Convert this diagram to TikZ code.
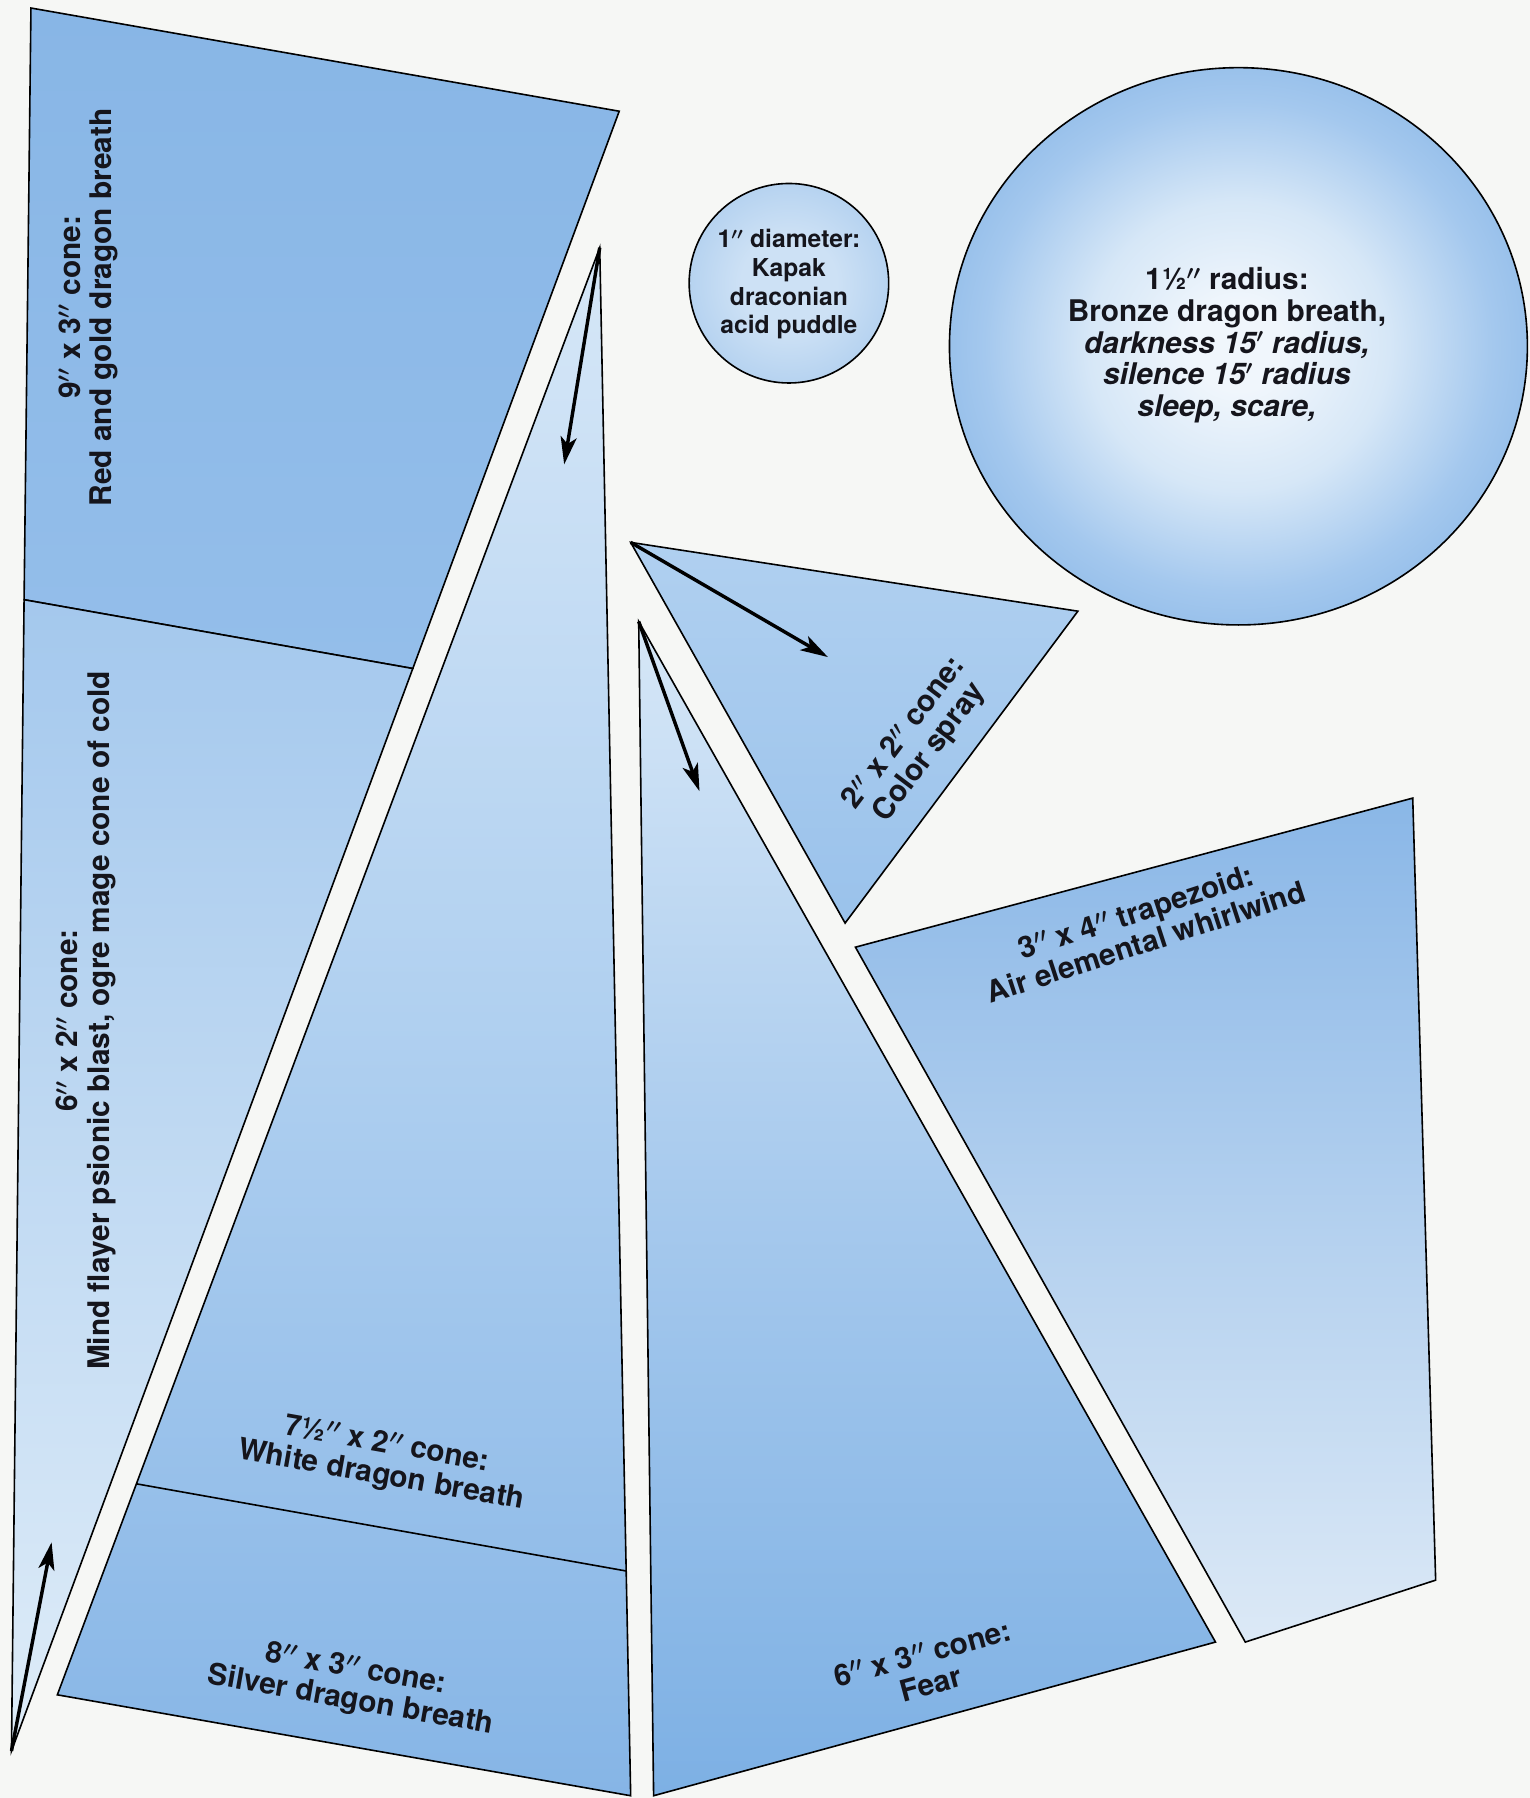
\documentclass[tikz,border=0pt]{standalone}
\usepackage{fontspec}
\setmainfont{TeX Gyre Heros}
\usetikzlibrary{arrows.meta}
\definecolor{bgc}{HTML}{F6F7F5}
\definecolor{bwhite}{HTML}{F0F6FC}
\definecolor{bpale}{HTML}{D6E7F7}
\definecolor{bmidc}{HTML}{A4C8EE}
\definecolor{bdeep}{HTML}{80B1E4}
\definecolor{sone}{HTML}{CDE1F5}
\definecolor{stwo}{HTML}{A8CAED}
\definecolor{inkc}{HTML}{15151C}
\pgfdeclareradialshading{bigdisc}{\pgfpoint{0bp}{0bp}}{color(0bp)=(bwhite); color(4bp)=(bwhite); color(13bp)=(bpale); color(22bp)=(bmidc); color(32bp)=(bdeep); color(75bp)=(bdeep)}
\pgfdeclareradialshading{smalldisc}{\pgfpoint{0bp}{0bp}}{color(0bp)=(sone); color(12bp)=(sone); color(33bp)=(stwo); color(75bp)=(stwo)}
\newcommand{\inch}{\ensuremath{''}}
\newcommand{\foot}{\ensuremath{'}}
\begin{document}
\begin{tikzpicture}[x=1pt,y=-1pt,
  edge/.style={draw=black,line width=1.4pt,line join=miter},
  arr/.style={draw=black,line width=3pt,-{Stealth[length=24pt,width=14pt,inset=6pt]}},
  lbl/.style={font=\bfseries\boldmath\fontsize{26}{27.5}\selectfont,align=center,text=inkc,inner sep=0pt},
  lbls/.style={font=\bfseries\boldmath\fontsize{21.5}{25}\selectfont,align=center,text=inkc,inner sep=0pt}]
\fill[bgc] (0,0) rectangle (1334,1568);
\useasboundingbox (0,0) rectangle (1334,1568);
% coordinates
\coordinate (L1) at (27,7);
\coordinate (L2) at (540,97);
\coordinate (L3) at (360,583);
\coordinate (L4) at (21,523);
\coordinate (L5) at (10,1527);
\coordinate (M1) at (523,216);
\coordinate (M2) at (550,1566);
\coordinate (M3) at (50,1478);
\coordinate (D1) at (119,1294);
\coordinate (D2) at (546,1370);
\coordinate (F1) at (557,542);
\coordinate (F2) at (570,1566);
\coordinate (F3) at (1060,1432);
\coordinate (C1) at (550,473);
\coordinate (C2) at (940,533);
\coordinate (C3) at (737,805);
\coordinate (T1) at (746,826);
\coordinate (T2) at (1232,696);
\coordinate (T3) at (1252,1378);
\coordinate (T4) at (1086,1432);
\coordinate (A1) at (45,1345);
\coordinate (A2) at (492,405);
\coordinate (A3) at (722,573);
\coordinate (A4) at (610,690);
% left shape
\draw[edge,top color={rgb,255:red,136;green,182;blue,230},bottom color={rgb,255:red,148;green,190;blue,234}] (L1) -- (L2) -- (L3) -- (L4) -- cycle;
\draw[edge,top color={rgb,255:red,164;green,200;blue,237},bottom color={rgb,255:red,222;green,236;blue,248}] (L4) -- (L3) -- (L5) -- cycle;
% middle shape
\draw[edge,top color={rgb,255:red,214;green,231;blue,247},bottom color={rgb,255:red,134;green,181;blue,230},middle color={rgb,255:red,176;green,208;blue,240}] (M1) -- (M2) -- (M3) -- cycle;
\draw[edge] (D1) -- (D2);
% fear
\draw[edge,top color={rgb,255:red,214;green,231;blue,247},bottom color={rgb,255:red,125;green,176;blue,228},middle color={rgb,255:red,166;green,201;blue,237}] (F1) -- (F2) -- (F3) -- cycle;
% color spray
\draw[edge,top color={rgb,255:red,176;green,208;blue,240},bottom color={rgb,255:red,154;green,194;blue,235}] (C1) -- (C2) -- (C3) -- cycle;
% trapezoid
\draw[edge,top color={rgb,255:red,138;green,183;blue,231},bottom color={rgb,255:red,220;green,233;blue,246}] (T1) -- (T2) -- (T3) -- (T4) -- cycle;
% circles
\shade[shading=smalldisc] (688,247) circle[radius=87];
\draw[edge] (688,247) circle[radius=87];
\shade[shading=bigdisc] (1080,302) ellipse[x radius=252,y radius=243];
\draw[edge] (1080,302) ellipse[x radius=252,y radius=243];
% arrows
\draw[arr] (L5) -- (A1);
\draw[arr] (M1) -- (A2);
\draw[arr] (C1) -- (A3);
\draw[arr] (F1) -- (A4);
% labels
\node[lbl,rotate=90] (t1) at (77,268) {9\inch{} x 3\inch{} cone:\\Red and gold dragon breath};
\node[lbl,rotate=90] (t2) at (75,890) {6\inch{} x 2\inch{} cone:\\Mind flayer psionic blast, ogre mage cone of cold};
\node[lbl,rotate=-10] (t3) at (335,1274) {7½\inch{} x 2\inch{} cone:\\White dragon breath};
\node[lbl,rotate=-10] (t4) at (308,1470) {8\inch{} x 3\inch{} cone:\\Silver dragon breath};
\node[lbl,rotate=15] (t5) at (808,1455) {6\inch{} x 3\inch{} cone:\\Fear};
\node[lbl,rotate=53] (t6) at (800,648) {2\inch{} x 2\inch{} cone:\\Color spray};
\node[lbl,rotate=18] (t7) at (995,808) {3\inch{} x 4\inch{} trapezoid:\\Air elemental whirlwind};
\node[lbls] (t8) at (688,248) {1\inch{} diameter:\\Kapak\\draconian\\acid puddle};
\node[lbl] (t9) at (1070,301) {1½\inch{} radius:\\Bronze dragon breath,\\\itshape darkness 15\foot{} radius,\\\itshape silence 15\foot{} radius\\\itshape sleep, scare,};
\end{tikzpicture}
\end{document}
